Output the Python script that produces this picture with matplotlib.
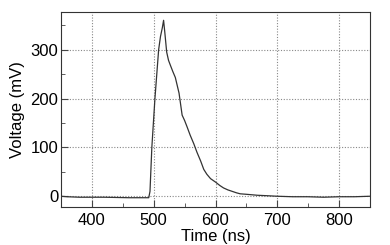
import matplotlib
matplotlib.use("Agg")
import matplotlib.pyplot as plt
from matplotlib.ticker import MultipleLocator

plt.rcParams['font.family'] = ['Liberation Sans', 'DejaVu Sans']

# pulse trace
time_ns = [350, 360, 380, 420, 460, 485, 492, 494, 497, 502, 508, 511, 514, 516, 518,
           521, 524, 527, 531, 535, 541, 546, 550, 554, 559, 565, 570, 576, 581,
           586, 592, 600, 607, 613, 620, 627, 634, 640, 650, 668, 685, 700, 725,
           749, 775, 800, 825, 850]
voltage_mv = [0, -1, -2, -2, -3, -3, -3, 10, 100, 200, 300, 327, 345, 360, 335,
              295, 278, 268, 255, 243, 211, 166, 155, 142, 125, 107, 90, 72, 55,
              45, 36, 29, 22, 17, 13, 10, 7, 5, 4, 2, 1, 0, -1, -1, -2, -1, -1, 0]

fig = plt.figure(figsize=(3.9, 2.45), dpi=100)
ax = fig.add_axes([61/390, 38/245, 309/390, 195/245])

ax.plot(time_ns, voltage_mv, color='#333333', lw=0.9)

ax.set_xlim(350, 850)
ax.set_ylim(-22, 377)
ax.xaxis.set_major_locator(MultipleLocator(100))
ax.xaxis.set_minor_locator(MultipleLocator(50))
ax.yaxis.set_major_locator(MultipleLocator(100))
ax.yaxis.set_minor_locator(MultipleLocator(50))
ax.tick_params(which='both', direction='in', labelsize=12, color='#444444')
ax.tick_params(which='major', length=5)
ax.tick_params(axis='x', which='major', pad=4)
ax.tick_params(axis='y', which='major', pad=2)
ax.tick_params(which='minor', length=3)
ax.grid(True, which='major', linestyle=(0, (1, 1.5)), color='#888888', lw=0.8)
for s in ax.spines.values():
    s.set_color('#333333')

ax.set_xlabel('Time (ns)', fontsize=12, labelpad=1)
ax.set_ylabel('Voltage (mV)', fontsize=12, labelpad=4)

fig.savefig('out.png', dpi=100)
